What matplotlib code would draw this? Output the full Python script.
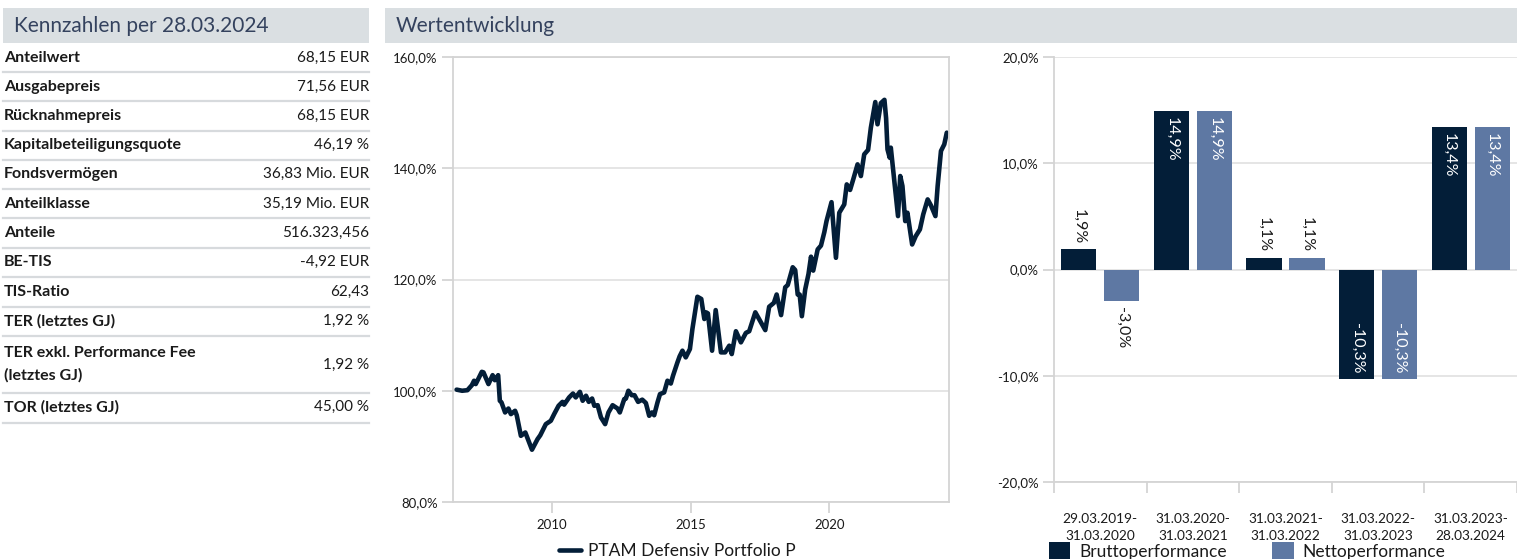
import numpy as np
import matplotlib
matplotlib.use("Agg")
import matplotlib.pyplot as plt
from matplotlib.patches import Rectangle
from matplotlib.lines import Line2D
from matplotlib.ticker import FuncFormatter, FixedLocator

plt.rcParams['font.family'] = ['Lato', 'DejaVu Sans']

# --- Kennzahlen -------------------------------------------------------------
kz_titel = "Kennzahlen per 28.03.2024"
kz_namen = ["Anteilwert", "Ausgabepreis", "Rücknahmepreis", "Kapitalbeteiligungsquote",
            "Fondsvermögen", "Anteilklasse", "Anteile", "BE-TIS", "TIS-Ratio",
            "TER (letztes GJ)", "TER exkl. Performance Fee\n(letztes GJ)", "TOR (letztes GJ)"]
kz_werte = ["68,15 EUR", "71,56 EUR", "68,15 EUR", "46,19 %", "36,83 Mio. EUR",
            "35,19 Mio. EUR", "516.323,456", "-4,92 EUR", "62,43", "1,92 %", "1,92 %", "45,00 %"]

# --- Wertentwicklung (Jahr, Indexwert in %) ------------------------------------
jahre = [2006.55, 2006.75, 2006.94, 2007.10, 2007.18, 2007.24, 2007.40, 2007.46, 2007.52,
         2007.70, 2007.85, 2007.93, 2008.05, 2008.11, 2008.17, 2008.30, 2008.42, 2008.51,
         2008.66, 2008.72, 2008.87, 2009.03, 2009.27, 2009.47, 2009.57, 2009.77, 2009.95,
         2010.07, 2010.23, 2010.37, 2010.43, 2010.61, 2010.75, 2010.85, 2011.00, 2011.10,
         2011.22, 2011.32, 2011.44, 2011.52, 2011.64, 2011.76, 2011.91, 2012.03, 2012.18,
         2012.36, 2012.44, 2012.60, 2012.66, 2012.75, 2012.87, 2012.97, 2013.10, 2013.25,
         2013.38, 2013.50, 2013.60, 2013.68, 2013.80, 2013.89, 2014.04, 2014.16, 2014.28,
         2014.36, 2014.52, 2014.60, 2014.70, 2014.82, 2014.97, 2015.06, 2015.24, 2015.38,
         2015.49, 2015.55, 2015.62, 2015.77, 2015.90, 2016.09, 2016.24, 2016.39, 2016.48,
         2016.63, 2016.81, 2016.99, 2017.11, 2017.33, 2017.53, 2017.69, 2017.83, 2018.00,
         2018.10, 2018.26, 2018.41, 2018.50, 2018.68, 2018.77, 2018.86, 2018.93, 2019.01,
         2019.13, 2019.25, 2019.34, 2019.42, 2019.58, 2019.70, 2019.82, 2019.90, 2020.08,
         2020.24, 2020.36, 2020.54, 2020.63, 2020.75, 2020.87, 2021.02, 2021.14, 2021.26,
         2021.40, 2021.50, 2021.66, 2021.74, 2021.86, 2021.99, 2022.05, 2022.10, 2022.18,
         2022.22, 2022.38, 2022.48, 2022.56, 2022.64, 2022.74, 2022.82, 2022.99, 2023.12,
         2023.27, 2023.39, 2023.55, 2023.67, 2023.83, 2023.91, 2024.03, 2024.15, 2024.24]
index = [100.2, 100.0, 100.1, 101.0, 101.8, 101.2, 102.8, 103.4, 103.3,
         101.2, 102.8, 101.9, 102.8, 98.2, 97.9, 96.1, 96.8, 95.8,
         96.4, 95.6, 91.9, 92.5, 89.4, 91.3, 92.0, 94.0, 94.6,
         95.8, 97.3, 98.0, 97.5, 98.8, 99.5, 98.8, 99.8, 98.2,
         99.1, 98.0, 98.6, 97.3, 97.4, 95.2, 94.0, 96.1, 97.4,
         96.8, 96.1, 98.5, 98.6, 100.0, 99.2, 99.2, 98.0, 98.4,
         97.8, 95.5, 96.1, 95.6, 97.9, 99.4, 99.7, 101.8, 101.3,
         102.7, 105.1, 106.2, 107.2, 106.0, 107.5, 111.1, 116.9, 116.5,
         112.9, 114.1, 113.9, 107.2, 114.5, 106.9, 106.9, 108.1, 106.6,
         110.7, 108.7, 110.4, 110.7, 114.1, 112.3, 110.9, 115.1, 115.8,
         117.3, 113.6, 118.6, 119.0, 122.2, 121.7, 117.3, 117.3, 113.4,
         118.2, 121.0, 124.1, 121.6, 125.4, 126.1, 128.5, 130.5, 133.9,
         123.9, 132.0, 133.5, 137.1, 136.1, 138.1, 140.7, 138.6, 142.5,
         143.3, 147.3, 151.9, 147.9, 151.7, 152.3, 149.0, 143.4, 141.9,
         143.7, 136.2, 131.4, 138.6, 136.8, 130.5, 132.0, 126.3, 127.8,
         129.0, 131.7, 134.4, 133.3, 131.4, 136.8, 143.1, 144.3, 146.4]
fonds_name = "PTAM Defensiv Portfolio P"

# --- Jahresperformance -----------------------------------------------------------
zeitraeume = ["29.03.2019-\n31.03.2020", "31.03.2020-\n31.03.2021", "31.03.2021-\n31.03.2022",
              "31.03.2022-\n31.03.2023", "31.03.2023-\n28.03.2024"]
brutto = [1.9, 14.9, 1.1, -10.3, 13.4]
netto = [-3.0, 14.9, 1.1, -10.3, 13.4]

W, H = 1517, 559
DUNKEL = "#031e38"
HELL = "#5e78a3"
GRAU = "#dadfe2"
TEXT = "#1a1a1a"
GRID = "#e3e3e3"


def fx(x):
    return x / W


def fy(y):
    return 1 - y / H


def de_pct(v, pos=None):
    return f"{v:.1f}%".replace(".", ",")


fig = plt.figure(figsize=(W / 100, H / 100), dpi=100)

# Kopfzeilen
for x0, x1, titel in [(3, 369, kz_titel), (385, 1517, "Wertentwicklung")]:
    fig.add_artist(Rectangle((fx(x0), fy(43)), fx(x1 - x0), 35 / H,
                             transform=fig.transFigure, color=GRAU, lw=0))
    fig.text(fx(x0 + 11), fy(26), titel, fontsize=15, color="#34425e", va="center")

# Tabelle
zeilen_y = [58, 87, 116, 145, 174, 204, 233, 262, 292, 321, 364.5, 407]
linien_y = [72, 101, 131, 160, 189, 218, 248, 277, 307, 336, 393, 423]
for name, wert, yc, yl in zip(kz_namen, kz_werte, zeilen_y, linien_y):
    fig.text(fx(4), fy(yc), name, fontsize=11.5, fontweight="bold", color=TEXT,
             va="center", ha="left", linespacing=1.75)
    fig.text(fx(369), fy(yc), wert, fontsize=11, color=TEXT, va="center", ha="right")
    fig.add_artist(Line2D([fx(3), fx(369)], [fy(yl), fy(yl)], transform=fig.transFigure,
                          color="#d7dadd", lw=1.6))

# Linienchart
ax1 = fig.add_axes([fx(453), fy(502), fx(949 - 453), (502 - 57) / H])
ax1.plot(jahre, index, color=DUNKEL, lw=3.3, solid_joinstyle="round",
         solid_capstyle="round", label=fonds_name)
ax1.set_xlim(2006.42, 2024.32)
ax1.set_ylim(80, 160)
ax1.set_xticks([2010, 2015, 2020])
ax1.set_yticks([80, 100, 120, 140, 160])
ax1.yaxis.set_major_formatter(FuncFormatter(de_pct))
ax1.grid(axis="y", color=GRID, lw=1.3)
ax1.set_axisbelow(True)
for s in ax1.spines.values():
    s.set_color("#d4d4d4")
    s.set_linewidth(1.3)
ax1.tick_params(axis="both", labelsize=9.5, colors="#d4d4d4", labelcolor=TEXT,
                length=8, width=1.3)
ax1.tick_params(axis="x", pad=4)
ax1.tick_params(axis="y", pad=3)
ax1.legend(loc="center", bbox_to_anchor=(fx(677), fy(551)), bbox_transform=fig.transFigure,
           frameon=False, fontsize=12.5, handlelength=1.3, handletextpad=0.35,
           labelcolor=TEXT)

# Balkenchart
ax2 = fig.add_axes([fx(1054), fy(482), fx(1517 - 1054), (482 - 57) / H])
pos = np.arange(len(zeitraeume))
breite = 0.38
b1 = ax2.bar(pos - 0.232, brutto, breite, color=DUNKEL, label="Bruttoperformance", zorder=3)
b2 = ax2.bar(pos + 0.232, netto, breite, color=HELL, label="Nettoperformance", zorder=3)
for bars in (b1, b2):
    for r in bars:
        v = r.get_height()
        xc = r.get_x() + r.get_width() / 2
        if abs(v) > 5:
            farbe = "white"
            off = -4 if v > 0 else 4
            va = "top" if v > 0 else "bottom"
        else:
            farbe = TEXT
            off = 4 if v > 0 else -4
            va = "bottom" if v > 0 else "top"
        ax2.annotate(de_pct(v), (xc, v), xytext=(0, off), textcoords="offset points",
                     rotation=270, ha="center", va=va, color=farbe, fontsize=11.5,
                     zorder=4)
ax2.set_xlim(-0.5, len(zeitraeume) - 0.5)
ax2.set_ylim(-20, 20)
ax2.set_yticks([-20, -10, 0, 10, 20])
ax2.yaxis.set_major_formatter(FuncFormatter(de_pct))
ax2.set_xticks(pos)
ax2.set_xticklabels(zeitraeume)
ax2.xaxis.set_minor_locator(FixedLocator(np.arange(-0.5, len(zeitraeume), 1.0)))
ax2.grid(axis="y", color=GRID, lw=1.3, zorder=0)
ax2.spines["top"].set_visible(False)
ax2.spines["right"].set_visible(False)
ax2.spines["left"].set_color("#d4d4d4")
ax2.spines["bottom"].set_color("#d4d4d4")
ax2.spines["left"].set_linewidth(1.3)
ax2.spines["bottom"].set_linewidth(1.3)
ax2.tick_params(axis="y", labelsize=9.5, colors="#d4d4d4", labelcolor=TEXT,
                length=8, width=1.3, pad=3)
ax2.tick_params(axis="x", which="major", length=0, labelsize=9.8, labelcolor=TEXT, pad=22)
ax2.tick_params(axis="x", which="minor", length=8, width=1.3, color="#d4d4d4")
for t in ax2.get_xticklabels():
    t.set_linespacing(1.55)
ax2.legend(loc="center", bbox_to_anchor=(fx(1247), fy(551)), bbox_transform=fig.transFigure,
           frameon=False, fontsize=12.5, ncol=2, handlelength=1.25, handleheight=1.1,
           handletextpad=0.5, columnspacing=2.6, labelcolor=TEXT)

fig.savefig("out.png", dpi=100)
